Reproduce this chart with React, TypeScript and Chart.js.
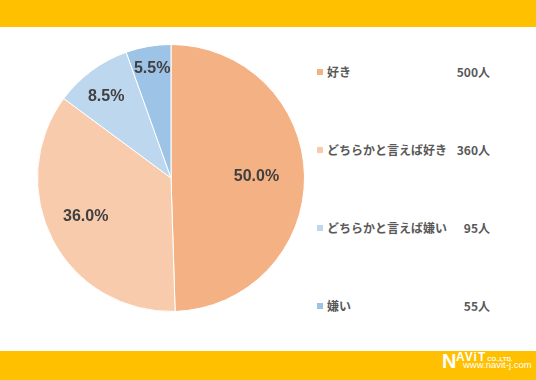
import React, { useEffect, useRef } from "react";
import { Chart, registerables } from "chart.js";

Chart.register(...registerables);

const categories = ["好き", "どちらかと言えば好き", "どちらかと言えば嫌い", "嫌い"];
const counts = [500, 360, 95, 55];
const percentLabels = ["50.0%", "36.0%", "8.5%", "5.5%"];
const countLabels = ["500人", "360人", "95人", "55人"];

const sliceColors = ["#F4B183", "#F8CBAD", "#BDD7EE", "#9DC3E6"];
const labelRadius = [0.64, 0.7, 0.78, 0.83];
const labelAngleShift = [0, 3.5, -2, 0];
const legendTops = [72, 150, 228, 306];
const BAND = "#FFC000";
const CJK = '"Noto Sans CJK JP", "Liberation Sans", sans-serif';
const LATIN = '"Liberation Sans", Arial, sans-serif';

const labelPlugin = {
  id: "pctLabels",
  afterDatasetsDraw(chart: any) {
    const ctx = chart.ctx;
    const meta = chart.getDatasetMeta(0);
    ctx.save();
    ctx.font = "bold 16px " + LATIN;
    ctx.fillStyle = "#404040";
    ctx.textAlign = "center";
    ctx.textBaseline = "middle";
    meta.data.forEach((arc: any, i: number) => {
      const { x, y, startAngle, endAngle, outerRadius } = arc.getProps(
        ["x", "y", "startAngle", "endAngle", "outerRadius"],
        true
      );
      const mid = (startAngle + endAngle) / 2 + (labelAngleShift[i] * Math.PI) / 180;
      const r = outerRadius * labelRadius[i];
      ctx.fillText(percentLabels[i], x + Math.cos(mid) * r, y + Math.sin(mid) * r);
    });
    ctx.restore();
  },
};

export default function App() {
  const ref = useRef<HTMLCanvasElement>(null);
  useEffect(() => {
    document.body.style.margin = "0";
    const chart = new Chart(ref.current!, {
      type: "pie",
      data: {
        labels: categories,
        datasets: [
          {
            data: counts,
            backgroundColor: sliceColors,
            borderColor: "#FFFFFF",
            borderWidth: 1,
          },
        ],
      },
      options: {
        responsive: false,
        animation: false,
        layout: { padding: 6 },
        plugins: { legend: { display: false }, tooltip: { enabled: false } },
      },
      plugins: [labelPlugin],
    });
    return () => chart.destroy();
  }, []);

  const legendText: React.CSSProperties = {
    position: "absolute",
    fontSize: 12,
    lineHeight: "18px",
    fontWeight: 700,
    color: "#595959",
    whiteSpace: "nowrap",
  };

  return (
    <div
      style={{
        position: "absolute",
        left: 0,
        top: 0,
        width: 536,
        height: 380,
        background: "#FFFFFF",
        overflow: "hidden",
        fontFamily: CJK,
      }}
    >
      <div style={{ position: "absolute", left: 0, top: 0, width: 536, height: 27, background: BAND }} />
      <canvas
        ref={ref}
        width={280}
        height={280}
        style={{ position: "absolute", left: 31, top: 38, width: 280, height: 280 }}
      />
      {categories.map((c, i) => (
        <React.Fragment key={c}>
          <div
            style={{
              position: "absolute",
              left: 317,
              top: legendTops[i] - 3,
              width: 6,
              height: 6,
              background: sliceColors[i],
            }}
          />
          <div style={{ ...legendText, left: 327, top: legendTops[i] - 9 }}>{c}</div>
          <div style={{ ...legendText, right: 536 - 490, top: legendTops[i] - 9 }}>{countLabels[i]}</div>
        </React.Fragment>
      ))}
      <div style={{ position: "absolute", left: 0, top: 351, width: 536, height: 29, background: BAND }}>
        <div
          style={{
            position: "absolute",
            left: 442,
            top: 0,
            fontFamily: LATIN,
            fontWeight: 700,
            fontSize: 20,
            lineHeight: "20px",
            color: "#FFFFFF",
          }}
        >
          N
        </div>
        <div
          style={{
            position: "absolute",
            left: 456,
            top: 0,
            fontFamily: LATIN,
            fontWeight: 700,
            fontSize: 12,
            lineHeight: "12px",
            letterSpacing: 1,
            color: "#FFFFFF",
            whiteSpace: "nowrap",
          }}
        >
          AViT
          <span style={{ fontSize: 6, letterSpacing: 0, marginLeft: 1 }}>CO.,LTD.</span>
        </div>
        <div
          style={{
            position: "absolute",
            left: 463,
            top: 9,
            fontFamily: LATIN,
            fontSize: 9.5,
            lineHeight: "10px",
            color: "#FFFFFF",
            whiteSpace: "nowrap",
          }}
        >
          www.navit-j.com
        </div>
      </div>
    </div>
  );
}
